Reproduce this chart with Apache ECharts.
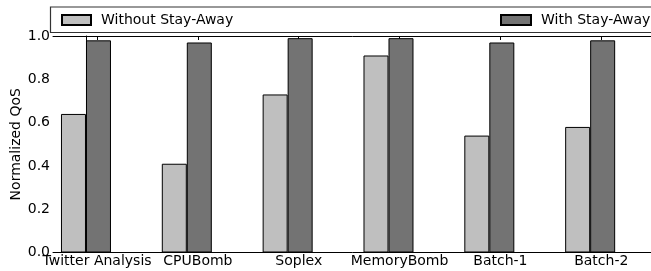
<!DOCTYPE html>
<html>
<head>
<meta charset="utf-8">
<script src="https://cdn.jsdelivr.net/npm/echarts@6/dist/echarts.min.js"></script>
<style>
    html, body { margin: 0; padding: 0; background: #fff; }
    #chart { width: 651px; height: 271px; }
</style>
</head>
<body>
<div id="chart"></div>
<script>
// data
const categories = ['Twitter Analysis', 'CPUBomb', 'Soplex', 'MemoryBomb', 'Batch-1', 'Batch-2']
const withoutStayAway = [0.64, 0.41, 0.73, 0.91, 0.54, 0.58]
const withStayAway = [0.98, 0.97, 0.99, 0.99, 0.97, 0.98]
const yTicks = [0, 0.2, 0.4, 0.6, 0.8, 1.0]

const LABEL_SHIFT = 0.11   // tick sits on the dark bar, not on the pair centre
const tickPos = categories.map((c, i) => i + LABEL_SHIFT)
const FONT = 'DejaVu Sans'

const myChart = echarts.init(document.getElementById('chart'))

const option = {
    animation: false,
    textStyle: { fontFamily: FONT },
    grid: { left: 53, top: 36, width: 638, bottom: 18.5, outerBoundsMode: 'none', containLabel: false },
    legend: [
        {
            data: ['Without Stay-Away'],
            icon: 'rect',
            left: 56, top: 8,
            itemWidth: 29, itemHeight: 10, itemGap: 0,
            textStyle: { fontSize: 14, color: '#000', fontFamily: FONT, padding: [0, 0, 0, 5] }
        },
        {
            data: ['With Stay-Away'],
            icon: 'rect',
            left: 495, top: 8,
            itemWidth: 30, itemHeight: 10,
            textStyle: { fontSize: 14, color: '#000', fontFamily: FONT, padding: [0, 0, 0, 5] }
        }
    ],
    graphic: [
        {
            type: 'rect',
            shape: { x: 50.5, y: 7, width: 700, height: 25.5 },
            style: { fill: 'none', stroke: '#333', lineWidth: 1.2 },
            silent: true
        }
    ],
    xAxis: [
        {
            type: 'value',
            min: -0.327,
            max: 6,
            splitLine: { show: false },
            axisLine: { show: true, onZero: false, lineStyle: { color: '#000', width: 1 } },
            axisTick: { show: true, inside: true, length: 4, customValues: tickPos, lineStyle: { color: '#000' } },
            axisLabel: {
                customValues: tickPos,
                formatter: (v) => categories[Math.round(v - LABEL_SHIFT)],
                color: '#000', fontSize: 14, fontFamily: FONT, margin: 2
            }
        },
        {
            type: 'value',
            position: 'top',
            min: -0.327,
            max: 6,
            splitLine: { show: false },
            axisLine: { show: true, onZero: false, lineStyle: { color: '#000', width: 1 } },
            axisTick: { show: true, inside: true, length: 4, customValues: tickPos, lineStyle: { color: '#000' } },
            axisLabel: { show: false }
        }
    ],
    yAxis: {
        type: 'value',
        min: 0,
        max: 1,
        interval: 0.2,
        name: 'Normalized QoS',
        nameLocation: 'middle',
        nameGap: 30,
        nameMoveOverlap: false,
        nameTextStyle: { fontSize: 14, color: '#000', fontFamily: FONT },
        splitLine: { show: false },
        axisLine: { show: true, lineStyle: { color: '#000', width: 1 } },
        axisTick: { show: true, inside: true, length: 4, lineStyle: { color: '#000' } },
        axisLabel: {
            formatter: (v) => v.toFixed(1),
            color: '#000', fontSize: 14, fontFamily: FONT, margin: 3
        }
    },
    series: [
        {
            name: 'Without Stay-Away',
            type: 'bar',
            barWidth: 25,
            barGap: '0%',
            itemStyle: { color: '#bfbfbf', borderColor: '#000', borderWidth: 1 },
            data: withoutStayAway.map((v, i) => [i, v])
        },
        {
            name: 'With Stay-Away',
            type: 'bar',
            barWidth: 25,
            barGap: '0%',
            itemStyle: { color: '#737373', borderColor: '#000', borderWidth: 1 },
            data: withStayAway.map((v, i) => [i, v])
        }
    ]
}

myChart.setOption(option)
</script>
</body>
</html>
